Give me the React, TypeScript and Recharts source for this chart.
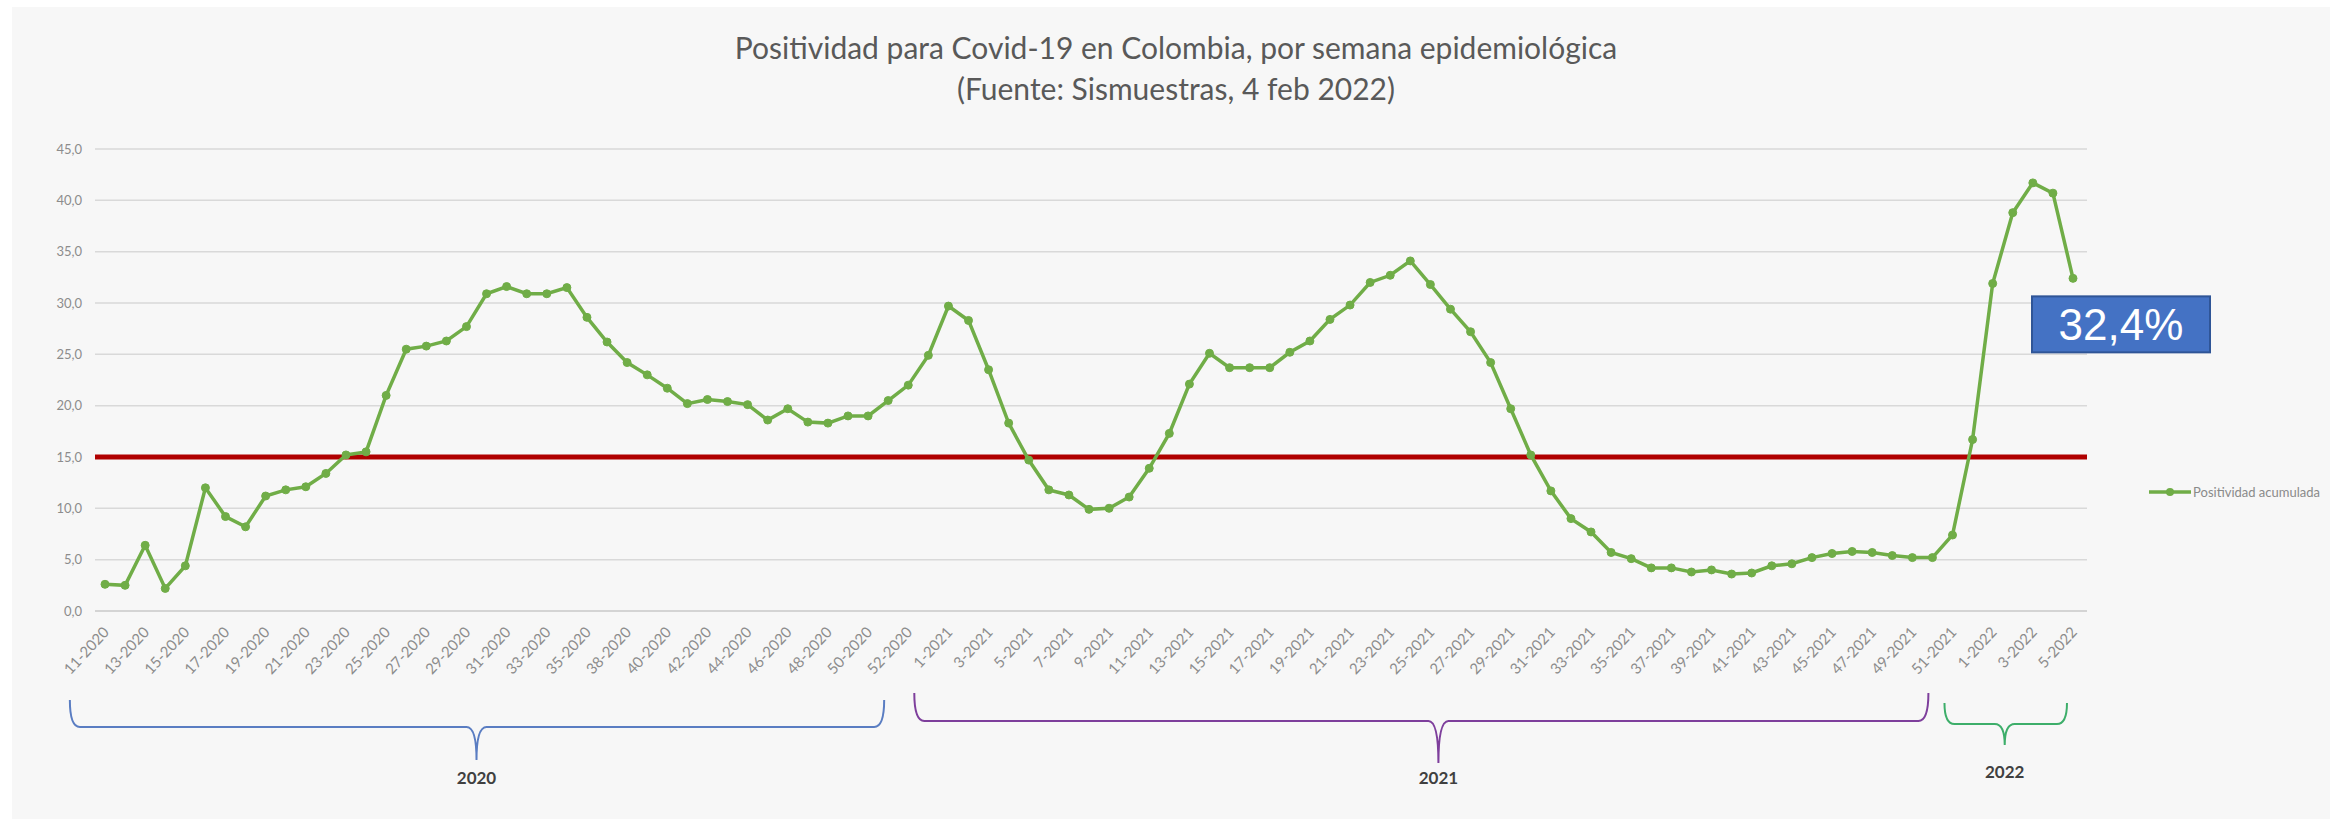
import { LineChart, Line, XAxis, YAxis, CartesianGrid, ReferenceLine, Legend, LabelList } from "recharts";

// epidemiological weeks (week 36-2020 is not in the source)
const weeks = [
  "11-2020", "12-2020", "13-2020", "14-2020", "15-2020", "16-2020", "17-2020", "18-2020", "19-2020", "20-2020",
  "21-2020", "22-2020", "23-2020", "24-2020", "25-2020", "26-2020", "27-2020", "28-2020", "29-2020", "30-2020",
  "31-2020", "32-2020", "33-2020", "34-2020", "35-2020", "37-2020", "38-2020", "39-2020", "40-2020", "41-2020",
  "42-2020", "43-2020", "44-2020", "45-2020", "46-2020", "47-2020", "48-2020", "49-2020", "50-2020", "51-2020",
  "52-2020", "53-2020",
  "1-2021", "2-2021", "3-2021", "4-2021", "5-2021", "6-2021", "7-2021", "8-2021", "9-2021", "10-2021",
  "11-2021", "12-2021", "13-2021", "14-2021", "15-2021", "16-2021", "17-2021", "18-2021", "19-2021", "20-2021",
  "21-2021", "22-2021", "23-2021", "24-2021", "25-2021", "26-2021", "27-2021", "28-2021", "29-2021", "30-2021",
  "31-2021", "32-2021", "33-2021", "34-2021", "35-2021", "36-2021", "37-2021", "38-2021", "39-2021", "40-2021",
  "41-2021", "42-2021", "43-2021", "44-2021", "45-2021", "46-2021", "47-2021", "48-2021", "49-2021", "50-2021",
  "51-2021", "52-2021",
  "1-2022", "2-2022", "3-2022", "4-2022", "5-2022",
];

const positividad = [
  // 2020
  2.6, 2.5, 6.4, 2.2, 4.4, 12.0, 9.2, 8.2, 11.2, 11.8,
  12.1, 13.4, 15.2, 15.5, 21.0, 25.5, 25.8, 26.3, 27.7, 30.9,
  31.6, 30.9, 30.9, 31.5, 28.6, 26.2, 24.2, 23.0, 21.7, 20.2,
  20.6, 20.4, 20.1, 18.6, 19.7, 18.4, 18.3, 19.0, 19.0, 20.5,
  22.0, 24.9,
  // 2021
  29.7, 28.3, 23.5, 18.3, 14.7, 11.8, 11.3, 9.9, 10.0, 11.1,
  13.9, 17.3, 22.1, 25.1, 23.7, 23.7, 23.7, 25.2, 26.3, 28.4,
  29.8, 32.0, 32.7, 34.1, 31.8, 29.4, 27.2, 24.2, 19.7, 15.2,
  11.7, 9.0, 7.7, 5.7, 5.1, 4.2, 4.2, 3.8, 4.0, 3.6,
  3.7, 4.4, 4.6, 5.2, 5.6, 5.8, 5.7, 5.4, 5.2, 5.2,
  7.4, 16.7,
  // 2022
  31.9, 38.8, 41.7, 40.7, 32.4,
];

const yTicks = [0, 5, 10, 15, 20, 25, 30, 35, 40, 45];
const umbral = 15;

const years = ["2020", "2021", "2022"];
// brace spans, in category index units
const yearFrom = [-1.75, 40.3, 91.6];
const yearTo = [38.8, 90.8, 97.7];
const yearTip = [18.5, 66.4, 94.6];

const data = weeks.map((semana, i) => ({ semana, positividad: positividad[i] }));

const W = 2336;
const H = 819;
const FONT = "Lato, 'Open Sans', sans-serif";
const GREEN = "#70ad47";

const PLOT_LEFT = 95;
const PLOT_RIGHT = 2087;
const PAD_L = 10;
const PAD_R = 14;
const STEP = (PLOT_RIGHT - PLOT_LEFT - PAD_L - PAD_R) / (weeks.length - 1);
const xOf = (i: number) => PLOT_LEFT + PAD_L + i * STEP;

const BRACE_STYLE = [
  { color: "#5a7dc2", top: 700, bar: 727, tip: 760, label: 784 },
  { color: "#7e3f9c", top: 693, bar: 721, tip: 763, label: 784 },
  { color: "#3dae6a", top: 703, bar: 724, tip: 745, label: 778 },
];

const fmt = (v: number) => v.toFixed(1).replace(".", ",");

const WeekTick = (props: any) => {
  const { x, y, payload } = props;
  return (
    <g transform={`translate(${x + 5},${y + 22})`}>
      <text
        x={0}
        y={0}
        textAnchor="end"
        transform="rotate(-47)"
        fill="#8c8c8c"
        fontSize={15}
        fontFamily={FONT}
      >
        {payload.value}
      </text>
    </g>
  );
};

const Callout = (props: any) => {
  const { x, y, index, value } = props;
  if (index !== positividad.length - 1) return null;
  return (
    <g>
      <rect x={x - 41} y={y + 18} width={178} height={56} fill="#4472c4" stroke="#2f5597" strokeWidth={2} />
      <text
        x={x + 48}
        y={y + 62}
        textAnchor="middle"
        fill="#ffffff"
        fontSize={44}
        fontFamily="'Liberation Sans', Arial, sans-serif"
      >
        {fmt(value)}%
      </text>
    </g>
  );
};

const LegendContent = () => (
  <div
    style={{
      display: "flex",
      alignItems: "center",
      justifyContent: "flex-end",
      fontFamily: FONT,
      fontSize: 13,
      color: "#8a8a8a",
      paddingRight: 10,
    }}
  >
    <svg width={42} height={12} style={{ marginRight: 2 }}>
      <line x1={0} y1={6} x2={42} y2={6} stroke={GREEN} strokeWidth={3.5} />
      <circle cx={21} cy={6} r={4} fill={GREEN} />
    </svg>
    <span>Positividad acumulada</span>
  </div>
);

function brace(i: number) {
  const s = BRACE_STYLE[i];
  const x1 = xOf(yearFrom[i]);
  const x2 = xOf(yearTo[i]);
  const xt = xOf(yearTip[i]);
  const r = 10;
  const d = [
    `M${x1},${s.top}`,
    `Q${x1},${s.bar} ${x1 + r},${s.bar}`,
    `L${xt - r},${s.bar}`,
    `Q${xt},${s.bar} ${xt},${s.tip}`,
    `Q${xt},${s.bar} ${xt + r},${s.bar}`,
    `L${x2 - r},${s.bar}`,
    `Q${x2},${s.bar} ${x2},${s.top}`,
  ].join(" ");
  return (
    <g key={years[i]}>
      <path d={d} fill="none" stroke={s.color} strokeWidth={2} />
      <text
        x={xt}
        y={s.label}
        textAnchor="middle"
        fontSize={17}
        fontWeight="bold"
        fill="#404040"
        fontFamily={FONT}
      >
        {years[i]}
      </text>
    </g>
  );
}

export default function App() {
  return (
    <div style={{ position: "relative", width: W, height: H, background: "#ffffff", overflow: "hidden" }}>
      <style>{`body{margin:0}`}</style>
      <div style={{ position: "absolute", left: 12, top: 7, right: 6, bottom: 0, background: "#f7f7f7" }} />
      <div
        style={{
          position: "absolute",
          left: 0,
          top: 27,
          width: 2352,
          textAlign: "center",
          fontFamily: FONT,
          fontSize: 30,
          lineHeight: "41px",
          color: "#595959",
        }}
      >
        <div>Positividad para Covid-19 en Colombia, por semana epidemiológica</div>
        <div>(Fuente: Sismuestras, 4 feb 2022)</div>
      </div>
      <div style={{ position: "absolute", left: 0, top: 0 }}>
        <LineChart width={W} height={H} data={data} margin={{ top: 149, right: 6, bottom: 148, left: 10 }}>
          <CartesianGrid vertical={false} stroke="#d9d9d9" strokeWidth={1.5} />
          <XAxis
            dataKey="semana"
            interval={1}
            tick={<WeekTick />}
            tickLine={false}
            tickSize={0}
            tickMargin={0}
            axisLine={{ stroke: "#d0d0d0", strokeWidth: 1.5 }}
            padding={{ left: PAD_L, right: PAD_R }}
            height={60}
          />
          <YAxis
            domain={[0, 45]}
            ticks={yTicks}
            width={85}
            axisLine={false}
            tickLine={false}
            tickSize={0}
            tickMargin={13}
            tickFormatter={(v: number) => fmt(v)}
            tick={{ fontSize: 13, fill: "#8c8c8c", fontFamily: FONT }}
          />
          <Legend
            layout="vertical"
            align="right"
            verticalAlign="middle"
            width={243}
            wrapperStyle={{ top: 484 }}
            content={<LegendContent />}
          />
          <ReferenceLine y={umbral} stroke="#b00000" strokeWidth={5} />
          <Line
            type="linear"
            dataKey="positividad"
            name="Positividad acumulada"
            stroke={GREEN}
            strokeWidth={3.5}
            dot={{ r: 4, fill: GREEN, stroke: GREEN, strokeWidth: 1 }}
            isAnimationActive={false}
          >
            <LabelList dataKey="positividad" content={<Callout />} />
          </Line>
        </LineChart>
      </div>
      <svg width={W} height={H} style={{ position: "absolute", left: 0, top: 0, pointerEvents: "none" }}>
        {years.map((_, i) => brace(i))}
      </svg>
    </div>
  );
}
